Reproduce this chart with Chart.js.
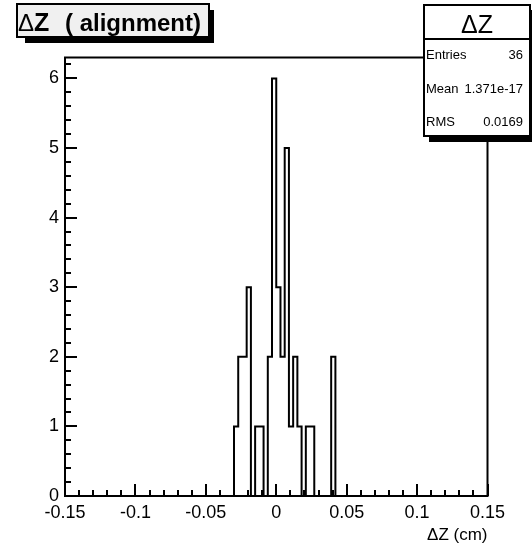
<!DOCTYPE html>
<html>
<head>
<meta charset="utf-8">
<script src="https://cdn.jsdelivr.net/npm/chart.js@4/dist/chart.umd.min.js"></script>
<style>
  html, body { margin: 0; padding: 0; background: #fff; }
  #wrap { width: 532px; height: 550px; position: relative; }
</style>
</head>
<body>
<div id="wrap"><canvas id="c" width="532" height="550"></canvas></div>
<script>
// Histogram definition: 100 bins over [-0.15, 0.15]
const xMin = -0.15;
const xMax = 0.15;
const nBins = 100;
// Counts for bins 40..63 (all other bins are empty)
const firstFilledBin = 40;
const filledCounts = [1, 2, 2, 3, 0, 1, 1, 0, 2, 6, 3, 2, 5, 1, 2, 1, 0, 1, 1, 0, 0, 0, 0, 2];

const xTickValues = [-0.15, -0.1, -0.05, 0, 0.05, 0.1, 0.15];
const xTickLabels = ['-0.15', '-0.1', '-0.05', '0', '0.05', '0.1', '0.15'];
const yTickValues = [0, 1, 2, 3, 4, 5, 6];
const yTickLabels = ['0', '1', '2', '3', '4', '5', '6'];
const yMax = 6.3;

const titleSymbol = 'Δ';
const titleVar = 'Z';
const titleRest = '( alignment)';
const statsName = 'ΔZ';
const statsRows = [['Entries', '36'], ['Mean', '1.371e-17'], ['RMS', '0.0169']];
const xAxisTitle = 'ΔZ (cm)';

// Build full bin contents and step outline points (one point per bin low edge)
const binWidth = (xMax - xMin) / nBins;
const counts = new Array(nBins).fill(0);
filledCounts.forEach((c, i) => { counts[firstFilledBin + i] = c; });
const outline = counts.map((c, i) => ({ x: xMin + i * binWidth, y: c }));
outline.push({ x: xMax, y: counts[nBins - 1] });

const FONT = "'Liberation Sans', Arial, Helvetica, sans-serif";

// Frame, inward tick marks, title box and statistics box
const decorations = {
  id: 'decorations',
  afterDatasetsDraw(chart) {
    const { ctx, chartArea: a, scales: { x, y } } = chart;
    ctx.save();
    ctx.strokeStyle = '#000';
    ctx.lineWidth = 2;
    ctx.strokeRect(a.left, a.top, a.right - a.left, a.bottom - a.top);

    ctx.beginPath();
    // x ticks: major every 0.05, minor every 0.01
    for (let k = 0; k <= 30; k++) {
      const v = xMin + k * 0.01;
      const px = Math.round(x.getPixelForValue(v));
      const len = (k % 5 === 0) ? 12 : 6;
      ctx.moveTo(px, a.bottom);
      ctx.lineTo(px, a.bottom - len);
    }
    // y ticks: major every 1, minor every 0.2
    for (let k = 0; k * 0.2 <= yMax + 1e-9; k++) {
      const v = k * 0.2;
      const py = Math.round(y.getPixelForValue(v));
      const len = (k % 5 === 0) ? 12 : 6;
      ctx.moveTo(a.left, py);
      ctx.lineTo(a.left + len, py);
    }
    ctx.stroke();
    ctx.restore();
  },
  afterDraw(chart) {
    const { ctx } = chart;
    ctx.save();
    ctx.lineWidth = 2;
    ctx.strokeStyle = '#000';

    // Title box with drop shadow
    ctx.fillStyle = '#000';
    ctx.fillRect(25, 10, 189, 33);
    ctx.fillStyle = '#f0f0f0';
    ctx.fillRect(17, 4, 192, 33);
    ctx.strokeRect(17, 4, 192, 33);
    ctx.fillStyle = '#000';
    ctx.textBaseline = 'alphabetic';
    ctx.textAlign = 'left';
    ctx.font = '24px ' + FONT;
    ctx.fillText(titleSymbol, 18, 30.5);
    ctx.font = 'bold 25px ' + FONT;
    ctx.fillText(titleVar, 34, 30.5);
    ctx.font = 'bold 24px ' + FONT;
    ctx.fillText(titleRest, 65, 30.5);

    // Statistics box with drop shadow
    const bx = 424, by = 5, bw = 106, bh = 131;
    ctx.fillStyle = '#000';
    ctx.fillRect(bx + 5, by + 5, bw + 3, bh + 1);
    ctx.fillStyle = '#fff';
    ctx.fillRect(bx, by, bw, bh);
    ctx.strokeRect(bx, by, bw, bh);
    ctx.beginPath();
    ctx.moveTo(bx, 39);
    ctx.lineTo(bx + bw, 39);
    ctx.stroke();

    ctx.fillStyle = '#000';
    ctx.textAlign = 'center';
    ctx.font = '25px ' + FONT;
    ctx.fillText(statsName, bx + bw / 2, 33);

    ctx.font = '13px ' + FONT;
    const baselines = [59, 93, 126];
    statsRows.forEach((r, i) => {
      ctx.textAlign = 'left';
      ctx.fillText(r[0], 426, baselines[i]);
      ctx.textAlign = 'right';
      ctx.fillText(r[1], 523, baselines[i]);
    });
    ctx.restore();
  }
};

new Chart(document.getElementById('c'), {
  type: 'line',
  data: {
    datasets: [{
      data: outline,
      stepped: 'before',
      borderColor: '#000',
      borderWidth: 2,
      pointRadius: 0,
      fill: false
    }]
  },
  options: {
    responsive: false,
    animation: false,
    layout: { padding: { top: 57.5, right: 44.5, left: 0, bottom: 0 } },
    plugins: { legend: { display: false }, tooltip: { enabled: false }, title: { display: false } },
    scales: {
      x: {
        type: 'linear',
        min: xMin,
        max: xMax,
        grid: { display: false, drawTicks: false },
        border: { display: false },
        afterBuildTicks(scale) { scale.ticks = xTickValues.map(v => ({ value: v })); },
        afterFit(scale) { scale.height = 54; },
        ticks: {
          autoSkip: false,
          maxRotation: 0,
          padding: 6,
          color: '#000',
          font: { family: FONT, size: 18 },
          callback(v) { const i = xTickValues.findIndex(t => Math.abs(t - v) < 1e-9); return i >= 0 ? xTickLabels[i] : ''; }
        },
        title: {
          display: true,
          text: xAxisTitle,
          align: 'end',
          color: '#000',
          font: { family: FONT, size: 17 },
          padding: { top: 0, bottom: 4 }
        }
      },
      y: {
        type: 'linear',
        min: 0,
        max: yMax,
        grid: { display: false, drawTicks: false },
        border: { display: false },
        afterBuildTicks(scale) { scale.ticks = yTickValues.map(v => ({ value: v })); },
        afterFit(scale) { scale.width = 65; },
        ticks: {
          autoSkip: false,
          padding: 6,
          color: '#000',
          font: { family: FONT, size: 18 },
          callback(v) { const i = yTickValues.findIndex(t => Math.abs(t - v) < 1e-9); return i >= 0 ? yTickLabels[i] : ''; }
        }
      }
    }
  },
  plugins: [decorations]
});
</script>
</body>
</html>
